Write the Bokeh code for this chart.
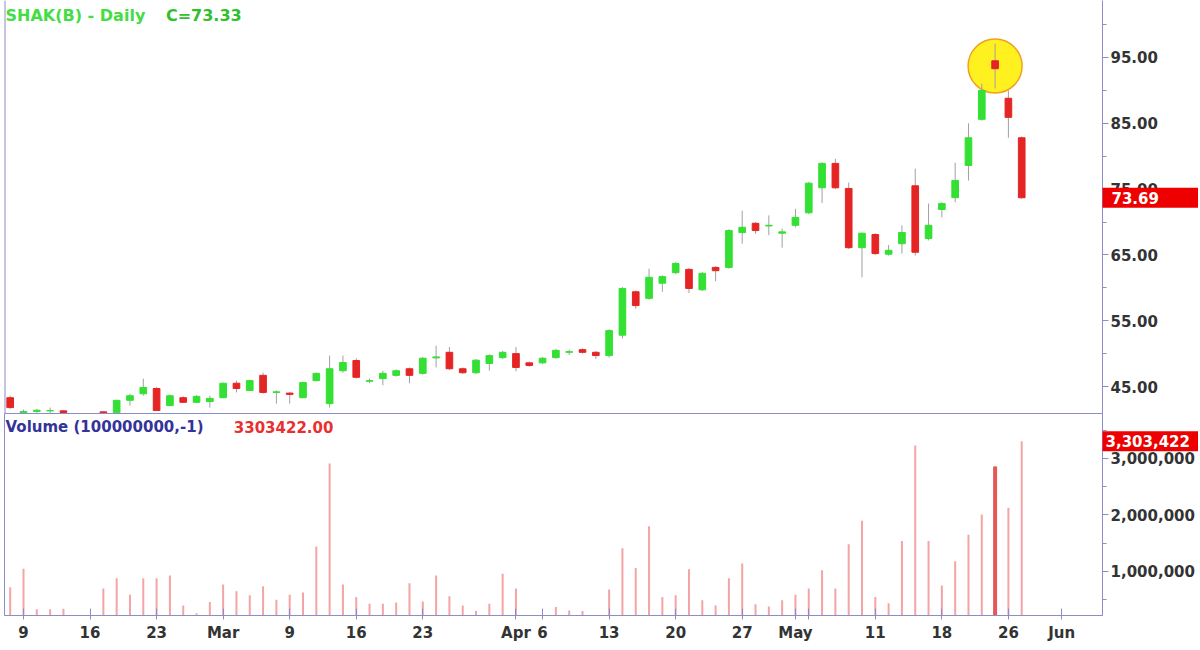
import pandas as pd
from bokeh.plotting import figure
from bokeh.layouts import column
from bokeh.core.properties import value
from bokeh.models import Range1d, FixedTicker, NumeralTickFormatter, Label, Span, ColumnDataSource
from bokeh.embed import file_html
from bokeh.resources import INLINE

# ---------------- data ----------------
dates = ["2015-02-06", "2015-02-09", "2015-02-10", "2015-02-11", "2015-02-12",
         "2015-02-17", "2015-02-18", "2015-02-19", "2015-02-20",
         "2015-02-23", "2015-02-24", "2015-02-25", "2015-02-26", "2015-02-27",
         "2015-03-02", "2015-03-03", "2015-03-04", "2015-03-05", "2015-03-06",
         "2015-03-09", "2015-03-10", "2015-03-11", "2015-03-12", "2015-03-13",
         "2015-03-16", "2015-03-17", "2015-03-18", "2015-03-19", "2015-03-20",
         "2015-03-23", "2015-03-24", "2015-03-25", "2015-03-26", "2015-03-27",
         "2015-03-30", "2015-03-31", "2015-04-01", "2015-04-02",
         "2015-04-06", "2015-04-07", "2015-04-08", "2015-04-09", "2015-04-10",
         "2015-04-13", "2015-04-14", "2015-04-15", "2015-04-16", "2015-04-17",
         "2015-04-20", "2015-04-21", "2015-04-22", "2015-04-23", "2015-04-24",
         "2015-04-27", "2015-04-28", "2015-04-29", "2015-04-30", "2015-05-01",
         "2015-05-04", "2015-05-05", "2015-05-06", "2015-05-07", "2015-05-08",
         "2015-05-11", "2015-05-12", "2015-05-13", "2015-05-14", "2015-05-15",
         "2015-05-18", "2015-05-19", "2015-05-20", "2015-05-21", "2015-05-22",
         "2015-05-26", "2015-05-27"]

opens = [43.3, 41.0, 41.2, 41.3, 41.3,
         41.15, 41.0, 42.9, 43.9,
         44.7, 42.1, 43.3, 42.6, 42.7,
         43.3, 45.5, 44.4, 46.7, 44.1,
         44.0, 43.3, 45.9, 42.4, 47.4,
         48.95, 45.8, 46.2, 46.7, 47.7,
         47.0, 49.35, 50.2, 47.7, 47.1,
         48.5, 49.4, 50.0, 48.6,
         48.6, 49.4, 50.2, 50.6, 50.2,
         49.7, 52.8, 59.4, 58.4, 60.7,
         62.3, 62.8, 59.7, 63.1, 63.1,
         68.4, 69.8, 69.4, 68.3, 69.5,
         71.4, 75.2, 78.9, 75.1, 66.1,
         68.1, 65.1, 66.7, 75.5, 67.5,
         71.9, 73.7, 78.6, 85.6, 94.5,
         88.8, 82.8]

highs = [43.6, 41.5, 41.6, 41.8, 41.4,
         41.2, 43.0, 43.9, 46.2,
         44.9, 43.8, 43.5, 43.7, 43.6,
         45.6, 45.9, 46.0, 47.1, 44.4,
         44.2, 45.7, 47.1, 49.7, 49.7,
         49.3, 46.2, 47.4, 47.6, 47.9,
         49.5, 51.2, 51.0, 47.9, 49.2,
         49.9, 50.4, 51.0, 48.8,
         49.5, 50.7, 50.6, 50.8, 50.4,
         53.7, 60.1, 59.6, 62.9, 61.9,
         63.9, 63.0, 62.4, 63.3, 68.9,
         71.7, 70.0, 71.0, 69.0, 72.0,
         76.1, 79.1, 79.6, 76.0, 68.4,
         68.3, 66.5, 69.5, 78.1, 72.8,
         73.0, 79.0, 85.0, 91.0, 97.1,
         90.0, 83.0]

lows = [41.6, 40.9, 41.0, 40.9, 40.95,
        40.95, 40.9, 42.1, 43.6,
        41.3, 42.0, 42.5, 42.5, 41.8,
        43.2, 44.1, 44.3, 43.9, 42.4,
        42.4, 43.2, 45.8, 41.8, 47.1,
        46.2, 45.5, 45.2, 46.5, 45.5,
        46.8, 47.9, 47.5, 46.9, 46.9,
        47.4, 49.2, 47.3, 48.0,
        48.4, 49.2, 49.8, 50.0, 49.2,
        49.4, 52.3, 56.8, 58.2, 59.4,
        62.1, 59.2, 59.5, 61.0, 62.9,
        66.7, 68.2, 68.0, 66.1, 69.2,
        71.2, 72.9, 75.0, 65.9, 61.6,
        65.0, 64.9, 65.2, 64.9, 67.2,
        70.7, 73.0, 76.3, 85.4, 90.3,
        82.8, 73.5]

closes = [41.8, 41.2, 41.4, 41.35, 41.05,
          41.0, 42.9, 43.6, 44.85,
          41.35, 43.6, 42.6, 43.5, 43.2,
          45.5, 44.7, 45.9, 44.1, 44.2,
          43.8, 45.6, 47.0, 47.7, 48.65,
          46.4, 45.9, 47.0, 47.4, 46.7,
          49.3, 49.5, 47.7, 47.1, 49.0,
          49.7, 50.2, 47.9, 48.2,
          49.3, 50.5, 50.3, 50.2, 49.7,
          53.5, 59.9, 57.3, 61.6, 61.7,
          63.7, 59.9, 62.2, 62.6, 68.7,
          69.2, 68.7, 69.5, 68.5, 70.7,
          75.9, 78.9, 75.2, 66.1, 68.3,
          65.2, 65.7, 68.4, 65.4, 69.5,
          72.8, 76.3, 82.8, 90.0, 93.3,
          85.9, 73.69]

volumes = [720000, 1050000, 330000, 330000, 340000,
           700000, 880000, 590000, 880000,
           880000, 930000, 400000, 260000, 460000,
           770000, 650000, 580000, 740000, 500000,
           590000, 630000, 1440000, 2910000, 770000,
           550000, 430000, 430000, 450000, 790000,
           470000, 930000, 560000, 400000, 300000,
           430000, 960000, 700000, 200000,
           200000, 370000, 310000, 300000, 200000,
           680000, 1410000, 1060000, 1800000, 550000,
           580000, 1040000, 490000, 400000, 880000,
           1140000, 420000, 380000, 490000, 590000,
           700000, 1020000, 700000, 1480000, 1900000,
           550000, 440000, 1540000, 3230000, 1540000,
           750000, 1180000, 1650000, 2010000, 2860000,
           2130000, 3303422]

tick_dates = ["2015-02-09", "2015-02-16", "2015-02-23", "2015-03-02", "2015-03-09",
              "2015-03-16", "2015-03-23", "2015-04-01", "2015-04-06", "2015-04-13",
              "2015-04-20", "2015-04-27", "2015-05-01", "2015-05-04", "2015-05-11",
              "2015-05-18", "2015-05-26", "2015-06-01"]
tick_labels = ["9", "16", "23", "Mar", "9", "16", "23", "Apr", "6", "13",
               "20", "27", "May", "", "11", "18", "26", "Jun"]

price_ticks = [45, 55, 65, 75, 85, 95]
volume_ticks = [1000000, 2000000, 3000000]
highlight_date = "2015-05-22"

title_text = "SHAK(B) - Daily"
close_text = "C=73.33"
volume_title = "Volume (100000000,-1)"
volume_value_text = "3303422.00"
last_price_text = "73.69"
last_volume_text = "3,303,422"

# ---------------- calendar slots ----------------
closed_days = ["2015-04-03", "2015-05-25"]
cal = [d.strftime("%Y-%m-%d") for d in pd.bdate_range("2015-02-06", "2015-06-12")]
cal = [d for d in cal if d not in closed_days]
slot = {d: i for i, d in enumerate(cal)}

xs = [slot[d] for d in dates]
GREEN = "#33e033"
RED = "#e52424"
colors = [GREEN if c >= o else RED for o, c in zip(opens, closes)]
src = ColumnDataSource(dict(
    x=xs, o=opens, h=highs, l=lows, c=closes, v=volumes,
    top=[max(o, c) for o, c in zip(opens, closes)],
    bot=[min(o, c) for o, c in zip(opens, closes)],
    color=colors))

FONT = "DejaVu Sans"
AX = "#8c8cc8"
TAG = "#ee0000"
FW = 1098
PH = 413
VH = 202
xr = Range1d(-0.428, 82.07)
pr = Range1d(40.9, 103.66)
vr = Range1d(221000, 3796000)
PX = (xr.end - xr.start) / FW  # slot units per pixel


def style_axis(ax):
    ax.axis_line_color = AX
    ax.major_tick_line_color = AX
    ax.minor_tick_line_color = AX
    ax.major_label_text_font = FONT
    ax.major_label_text_font_style = "bold"
    ax.major_label_text_font_size = "15px"
    ax.major_label_text_color = "#333333"


# ---------------- price panel ----------------
p1 = figure(frame_width=FW, frame_height=PH, x_range=xr, y_range=pr,
            y_axis_location="right", x_axis_location=None, toolbar_location=None,
            output_backend="svg", min_border_left=4, min_border_top=0,
            min_border_bottom=0, min_border_right=96)
p1.grid.visible = False
p1.outline_line_color = None
p1.background_fill_color = "white"
p1.border_fill_color = "white"

hi = dates.index(highlight_date)
p1.scatter(x=[xs[hi]], y=[(highs[hi] + lows[hi]) / 2], size=54, fill_color="#fff020",
           line_color="#f0a020", line_width=1.5)
p1.segment(x0="x", y0="l", x1="x", y1="h", source=src, line_color="#a0a0a0", line_width=1)
p1.vbar(x="x", width=0.5, top="top", bottom="bot", source=src,
        fill_color="color", line_color="color", line_width=1)

ya = p1.yaxis[0]
ya.ticker = FixedTicker(ticks=price_ticks, minor_ticks=[t + 5 for t in price_ticks] + [40])
ya.formatter = NumeralTickFormatter(format="0.00")
style_axis(ya)
ya.major_tick_in = 0
ya.major_tick_out = 6
ya.minor_tick_in = 0
ya.minor_tick_out = 4
ya.major_label_standoff = 2

p1.add_layout(Span(location=xr.start, dimension="height", line_color=AX, line_width=2))

p1.add_layout(Label(x=-0.35, y=101.4, text=title_text, text_font=FONT, text_font_style="bold",
                    text_font_size="16px", text_color="#44dd44", text_baseline="middle"))
p1.add_layout(Label(x=11.7, y=101.4, text=close_text, text_font=FONT, text_font_style="bold",
                    text_font_size="16px", text_color="#2fbf2f", text_baseline="middle"))

# last-price tag over the axis area
p1.rect(x=[xr.end + 48 * PX], y=[closes[-1]], width=96 * PX, height=20, height_units="screen",
        fill_color=TAG, line_color=None, level="overlay")
p1.text(x=[xr.end + 9 * PX], y=[closes[-1]], text=[last_price_text], text_font=value(FONT),
        text_font_style="bold", text_font_size="15px", text_color="white",
        text_baseline="middle", level="overlay")

# ---------------- volume panel ----------------
p2 = figure(frame_width=FW, frame_height=VH, x_range=xr, y_range=vr,
            y_axis_location="right", toolbar_location=None, output_backend="svg",
            min_border_left=4, min_border_top=0, min_border_bottom=0, min_border_right=96)
p2.grid.visible = False
p2.outline_line_color = AX
p2.background_fill_color = "white"
p2.border_fill_color = "white"

p2.segment(x0="x", y0=0, x1="x", y1="v", source=src, line_color="#f4a4a4", line_width=2)
p2.segment(x0=[xs[hi]], y0=[0], x1=[xs[hi]], y1=[volumes[hi]], line_color="#e45858", line_width=4)

va = p2.yaxis[0]
va.ticker = FixedTicker(ticks=volume_ticks, minor_ticks=[500000, 1500000, 2500000, 3500000])
va.formatter = NumeralTickFormatter(format="0,0")
style_axis(va)
va.major_tick_in = 0
va.major_tick_out = 6
va.minor_tick_in = 0
va.minor_tick_out = 4
va.major_label_standoff = 2

xa = p2.xaxis[0]
tick_slots = [slot[d] for d in tick_dates]
xa.ticker = FixedTicker(ticks=tick_slots, minor_ticks=[])
xa.major_label_overrides = {s: lab for s, lab in zip(tick_slots, tick_labels)}
style_axis(xa)
xa.major_tick_in = 7
xa.major_tick_out = 4
xa.minor_tick_in = 0
xa.minor_tick_out = 0
xa.major_label_standoff = 4

p2.add_layout(Label(x=-0.35, y=3550000, text=volume_title, text_font=FONT, text_font_style="bold",
                    text_font_size="15px", text_color="#333399", text_baseline="middle"))
p2.add_layout(Label(x=16.8, y=3550000, text=volume_value_text, text_font=FONT,
                    text_font_style="bold", text_font_size="15px", text_color="#e83030",
                    text_baseline="middle"))

# last-volume tag over the axis area
p2.rect(x=[xr.end + 48 * PX], y=[volumes[-1]], width=96 * PX, height=20, height_units="screen",
        fill_color=TAG, line_color=None, level="overlay")
p2.text(x=[xr.end + 3 * PX], y=[volumes[-1]], text=[last_volume_text], text_font=value(FONT),
        text_font_style="bold", text_font_size="15px", text_color="white",
        text_baseline="middle", level="overlay")

layout = column(p1, p2, spacing=0)
open("out.html", "w").write(file_html(layout, INLINE))
